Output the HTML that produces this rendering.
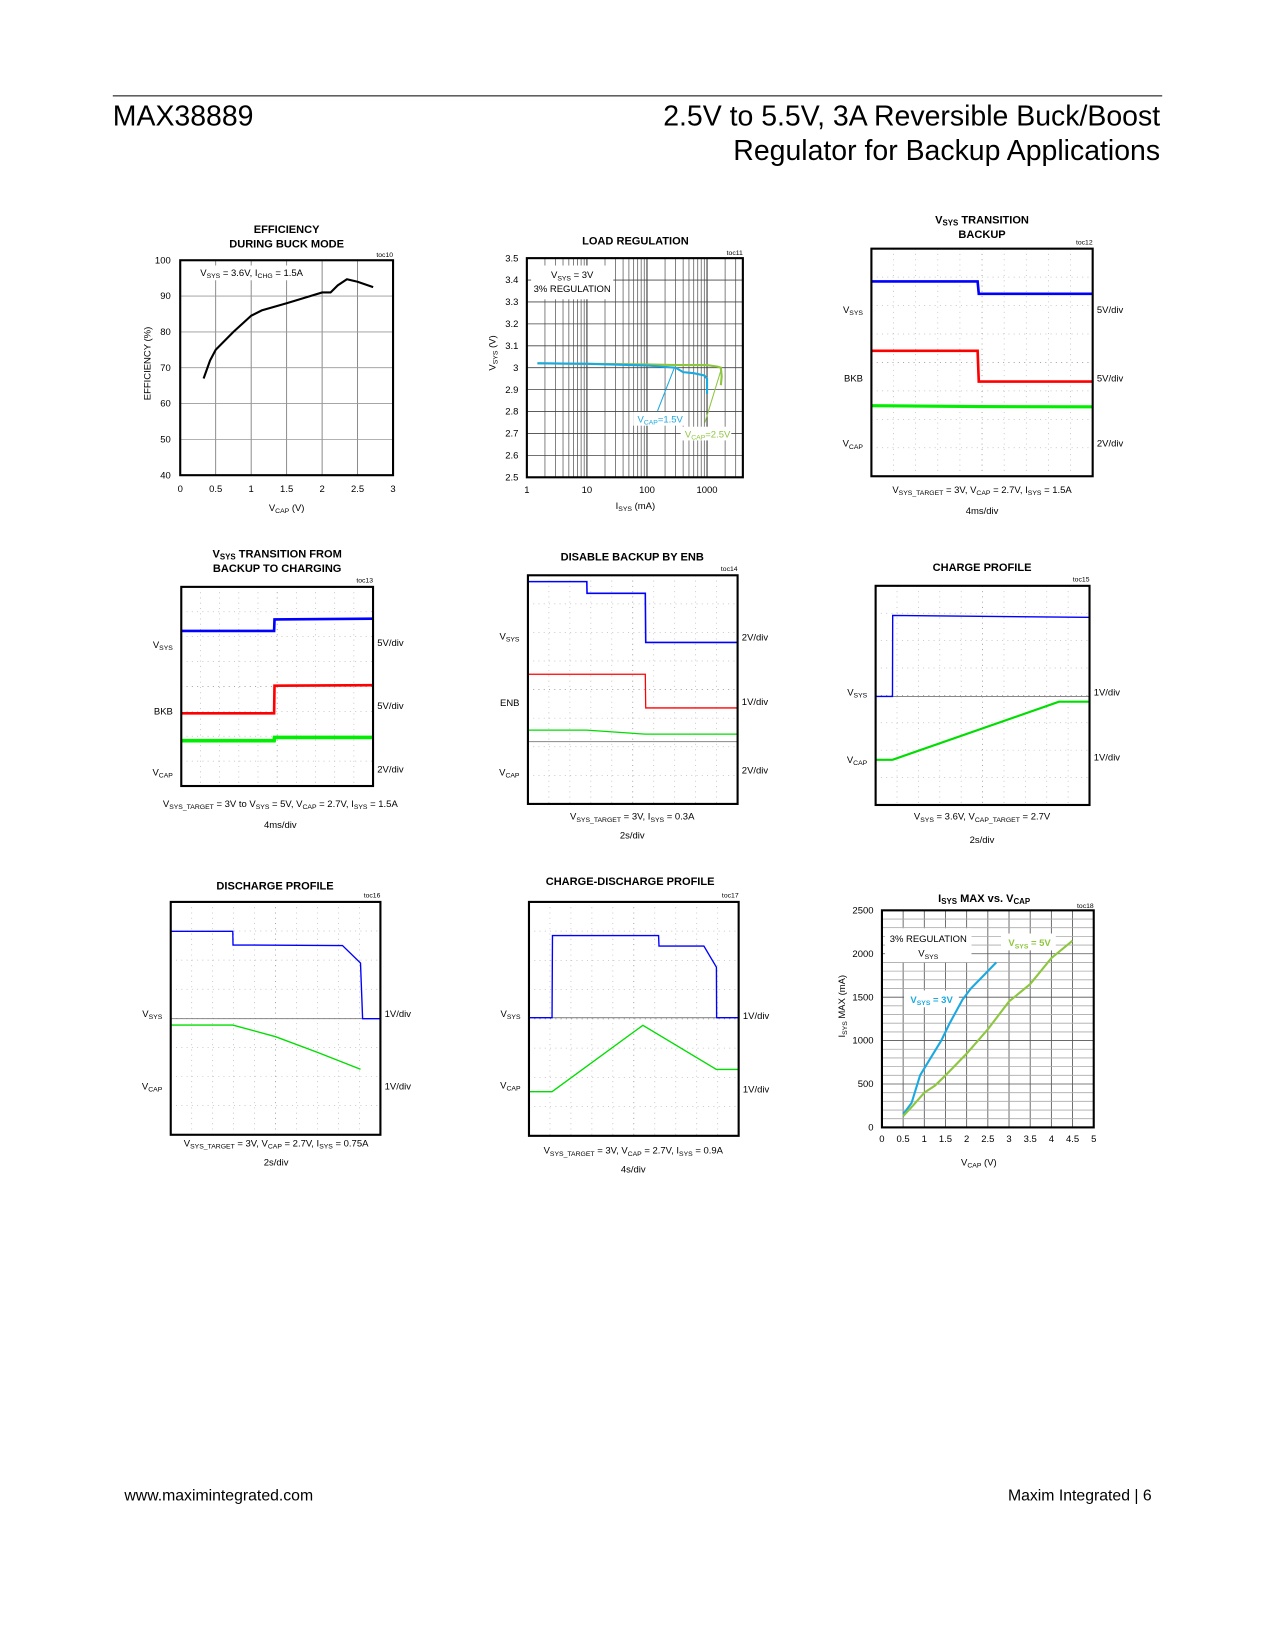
<!DOCTYPE html>
<html><head><meta charset="utf-8"><style>
html,body{margin:0;padding:0;background:#fff}
svg{display:block;font-family:"Liberation Sans",Arial,sans-serif}
</style></head><body>
<svg id="pg" width="1275" height="1650" viewBox="0 0 1210 1566" xmlns="http://www.w3.org/2000/svg">
<line x1="107" y1="91" x2="1103" y2="91" stroke="#000" stroke-width="1"/>
<text x="107" y="119" font-size="27">MAX38889</text>
<text x="1101" y="119" font-size="27" text-anchor="end">2.5V to 5.5V, 3A Reversible Buck/Boost</text>
<text x="1101" y="152" font-size="27" text-anchor="end">Regulator for Backup Applications</text>
<text x="118" y="1424" font-size="15">www.maximintegrated.com</text>
<text x="1093" y="1424" font-size="15" text-anchor="end">Maxim Integrated | 6</text>
<g id="charts"></g>
</svg>
<script>
// ---- Efficiency data (toc10)
const effX=[0.33,0.42,0.5,0.75,1,1.15,1.5,1.75,2,2.12,2.22,2.35,2.5,2.72];
const effY=[67,72,75,80,84.5,86,88,89.5,91,91,93,94.7,94,92.5];
const effXTicks=[0,0.5,1,1.5,2,2.5,3];
const effYTicks=[40,50,60,70,80,90,100];
// ---- Load regulation (toc11)
const lrBlueX=[1.5,10,100,300,400,600,900,1000,1000];
const lrBlueY=[3.02,3.018,3.01,3.0,2.98,2.975,2.965,2.95,2.88];
const lrGreenX=[1.5,10,100,300,1000,1500,1700,1750,1700];
const lrGreenY=[3.02,3.018,3.015,3.012,3.012,3.005,3.0,2.96,2.92];
const lrXTicks=[1,10,100,1000];
const lrYTicks=[2.5,2.6,2.7,2.8,2.9,3,3.1,3.2,3.3,3.4,3.5];
// ---- ISYS max vs VCAP (toc18)
const isX3=[0.5,0.7,0.9,1.1,1.4,1.6,1.9,2.1,2.4,2.7];
const isY3=[150,280,600,760,1000,1200,1470,1600,1750,1900];
const isX5=[0.5,0.75,1,1.25,1.5,2,2.5,3,3.5,4,4.5];
const isY5=[130,260,400,480,600,850,1130,1450,1650,1950,2150];
const isXTicks=[0,0.5,1,1.5,2,2.5,3,3.5,4,4.5,5];
const isYTicks=[0,500,1000,1500,2000,2500];
// ---- Scope traces (time div 0-10, level div 0-8)
const s12BlueT=[0,4.8,4.85,10];const s12BlueV=[6.85,6.85,6.41,6.41];
const s12RedT=[0,4.8,4.85,10];const s12RedV=[4.41,4.41,3.33,3.33];
const s12GrnT=[0,4.8,10];const s12GrnV=[2.48,2.45,2.44];
const s13BlueT=[0,4.84,4.86,10];const s13BlueV=[6.23,6.23,6.69,6.72];
const s13RedT=[0,4.84,4.86,10];const s13RedV=[2.92,2.92,4.03,4.05];
const s13GrnT=[0,4.84,4.86,10];const s13GrnV=[1.82,1.82,1.95,1.95];
const s14BlueT=[0,2.81,2.82,5.6,5.62,10];const s14BlueV=[7.78,7.78,7.37,7.37,5.65,5.65];
const s14RedT=[0,5.6,5.62,10];const s14RedV=[4.54,4.54,3.36,3.36];
const s14GrnT=[0,2.8,5.6,10];const s14GrnV=[2.58,2.58,2.44,2.44];
const s15BlueT=[0,0.79,0.8,9.8,10];const s15BlueV=[3.96,3.96,6.92,6.85,6.85];
const s15GrnT=[0,0.79,8.57,10];const s15GrnV=[1.65,1.65,3.77,3.77];
const s16BlueT=[0,2.96,2.97,8.19,9.05,9.15,10];const s16BlueV=[6.99,6.99,6.52,6.5,5.9,3.99,3.99];
const s16GrnT=[0,2.96,5,7,9.05];const s16GrnV=[3.77,3.77,3.37,2.83,2.25];
const s17BlueT=[0,1.1,1.12,6.18,6.2,8.34,8.94,8.95,10];const s17BlueV=[4.04,4.04,6.85,6.85,6.49,6.49,5.77,4.04,4.04];
const s17GrnT=[0,1.1,5.43,8.94,10];const s17GrnV=[1.51,1.51,3.78,2.27,2.27];

const NS="http://www.w3.org/2000/svg";
const root=document.getElementById('charts');
function mk(tag,attrs,parent,txt){const e=document.createElementNS(NS,tag);for(const k in attrs)e.setAttribute(k,attrs[k]);if(txt!==undefined)e.innerHTML=txt;(parent||root).appendChild(e);return e;}
function pathD(xs,ys,fx,fy){return xs.map((v,i)=>(i?'L':'M')+fx(v).toFixed(1)+' '+fy(ys[i]).toFixed(1)).join(' ');}
function txt(x,y,s,size,anchor,weight,fill){return mk('text',{x:x,y:y,'font-size':size,'text-anchor':anchor||'start','font-weight':weight||'normal',fill:fill||'#000'},root,s);}

// ---------- Efficiency chart
(function(){
 const L=171,R=373,T=247,B=451;
 const fx=v=>L+(v/3)*(R-L), fy=v=>B-(v-40)/60*(B-T);
 const t1=txt(272,221,'EFFICIENCY',10.5,'middle','bold');
 const t2=txt(272,235,'DURING BUCK MODE',10.5,'middle','bold');
 txt(373,244,'toc10',6.5,'end');
 effXTicks.forEach(v=>{mk('line',{x1:fx(v),y1:T,x2:fx(v),y2:B,stroke:'#777','stroke-width':0.8});const t=txt(fx(v),467,String(v),9,'middle');});
 effYTicks.forEach(v=>{mk('line',{x1:L,y1:fy(v),x2:R,y2:fy(v),stroke:'#999','stroke-width':0.8});const t=txt(162,fy(v)+3,String(v),9,'end');});
 mk('rect',{x:183,y:252,width:120,height:14,fill:'#fff'});
 mk('text',{x:190,y:262,'font-size':9},root,'V<tspan font-size="6.5" dy="2">SYS</tspan><tspan dy="-2"> = 3.6V, I</tspan><tspan font-size="6.5" dy="2">CHG</tspan><tspan dy="-2"> = 1.5A</tspan>');
 const p=mk('path',{d:pathD(effX,effY,fx,fy),fill:'none',stroke:'#000','stroke-width':2});
 
 mk('rect',{x:L,y:T,width:R-L,height:B-T,fill:'none',stroke:'#000','stroke-width':2});
 mk('text',{x:272,y:485,'font-size':9,'text-anchor':'middle'},root,'V<tspan font-size="6.5" dy="2">CAP</tspan><tspan dy="-2"> (V)</tspan>');
 mk('text',{x:0,y:0,'font-size':9,'text-anchor':'middle',transform:'translate(143,345) rotate(-90)'},root,'EFFICIENCY (%)');
})();

// ---------- Load regulation
(function(){
 const L=500,R=705,T=245,B=453;
 const fx=v=>L+Math.log10(v)*57, fy=v=>B-(v-2.5)/1*(B-T);
 txt(603,232,'LOAD REGULATION',10.5,'middle','bold');
 txt(705,242,'toc11',6.5,'end');
 for(let d=0;d<4;d++)for(let m=1;m<10;m++){const v=Math.pow(10,d)*m;const x=fx(v);if(x>R)continue;mk('line',{x1:x,y1:T,x2:x,y2:B,stroke:m===1?'#333':'#555','stroke-width':m===1?1:0.7});}
 lrYTicks.forEach(v=>{mk('line',{x1:L,y1:fy(v),x2:R,y2:fy(v),stroke:'#444','stroke-width':0.8});const t=txt(492,fy(v)+3,String(v),9,'end');});
 lrXTicks.forEach(v=>{const t=txt(fx(v),468,String(v),9,'middle');});
 mk('rect',{x:504,y:252,width:78,height:32,fill:'#fff'});
 mk('text',{x:543,y:264,'font-size':9,'text-anchor':'middle'},root,'V<tspan font-size="6.5" dy="2">SYS</tspan><tspan dy="-2"> = 3V</tspan>');
 txt(543,277,'3% REGULATION',9,'middle');
 const g=mk('path',{d:pathD(lrGreenX,lrGreenY,fx,fy),fill:'none',stroke:'#8dc63f','stroke-width':2});
 
 const b=mk('path',{d:pathD(lrBlueX,lrBlueY,fx,fy),fill:'none',stroke:'#1ba9e1','stroke-width':2});
 
 mk('line',{x1:640,y1:349,x2:624,y2:390,stroke:'#1ba9e1','stroke-width':1});
 mk('line',{x1:684,y1:352,x2:669,y2:401,stroke:'#8dc63f','stroke-width':1});
 mk('rect',{x:601,y:391,width:48,height:13,fill:'#fff'});
 mk('text',{x:605,y:401,'font-size':9,fill:'#1ba9e1'},root,'V<tspan font-size="6.5" dy="2">CAP</tspan><tspan dy="-2">=1.5V</tspan>');
 mk('rect',{x:646,y:405,width:48,height:13,fill:'#fff'});
 mk('text',{x:650,y:415,'font-size':9,fill:'#8dc63f'},root,'V<tspan font-size="6.5" dy="2">CAP</tspan><tspan dy="-2">=2.5V</tspan>');
 mk('rect',{x:L,y:T,width:R-L,height:B-T,fill:'none',stroke:'#000','stroke-width':2});
 mk('text',{x:603,y:483,'font-size':9,'text-anchor':'middle'},root,'I<tspan font-size="6.5" dy="2">SYS</tspan><tspan dy="-2"> (mA)</tspan>');
 mk('text',{x:0,y:0,'font-size':9,'text-anchor':'middle',transform:'translate(470,335) rotate(-90)'},root,'V<tspan font-size="6.5" dy="2">SYS</tspan><tspan dy="-2"> (V)</tspan>');
})();

// ---------- ISYS max
(function(){
 const L=837,R=1038,T=864,B=1070;
 const fx=v=>L+v/5*(R-L), fy=v=>B-v/2500*(B-T);
 mk('text',{x:934,y:856,'font-size':10.5,'text-anchor':'middle','font-weight':'bold'},root,'I<tspan font-size="7.5" dy="2">SYS</tspan><tspan dy="-2"> MAX vs. V</tspan><tspan font-size="7.5" dy="2">CAP</tspan>');
 txt(1038,862,'toc18',6.5,'end');
 for(let v=0;v<=5;v+=0.5)mk('line',{x1:fx(v),y1:T,x2:fx(v),y2:B,stroke:'#555','stroke-width':0.8});
 for(let v=0;v<=2500;v+=100)mk('line',{x1:L,y1:fy(v),x2:R,y2:fy(v),stroke:v%500===0?'#555':'#aaa','stroke-width':0.8});
 isXTicks.forEach(v=>{const t=txt(fx(v),1084,String(v),9,'middle');});
 isYTicks.forEach(v=>{const t=txt(829,fy(v)+3,String(v),9,'end');});
 mk('rect',{x:840,y:881,width:82,height:32,fill:'#fff'});
 txt(881,894,'3% REGULATION',9,'middle');
 mk('text',{x:881,y:908,'font-size':9,'text-anchor':'middle'},root,'V<tspan font-size="6.5" dy="2">SYS</tspan>');
 mk('rect',{x:858,y:940,width:52,height:16,fill:'#fff'});
 mk('text',{x:864,y:952,'font-size':9,fill:'#1ba9e1','font-weight':'bold'},root,'V<tspan font-size="6.5" dy="2">SYS</tspan><tspan dy="-2"> = 3V</tspan>');
 mk('rect',{x:950,y:886,width:52,height:16,fill:'#fff'});
 mk('text',{x:957,y:898,'font-size':9,fill:'#8dc63f','font-weight':'bold'},root,'V<tspan font-size="6.5" dy="2">SYS</tspan><tspan dy="-2"> = 5V</tspan>');
 const b=mk('path',{d:pathD(isX3,isY3,fx,fy),fill:'none',stroke:'#1ba9e1','stroke-width':2});
 
 const g=mk('path',{d:pathD(isX5,isY5,fx,fy),fill:'none',stroke:'#8dc63f','stroke-width':2});
 
 mk('rect',{x:L,y:T,width:R-L,height:B-T,fill:'none',stroke:'#000','stroke-width':2});
 mk('text',{x:929,y:1106,'font-size':9,'text-anchor':'middle'},root,'V<tspan font-size="6.5" dy="2">CAP</tspan><tspan dy="-2"> (V)</tspan>');
 mk('text',{x:0,y:0,'font-size':9,'text-anchor':'middle',transform:'translate(802,955) rotate(-90)'},root,'I<tspan font-size="6.5" dy="2">SYS</tspan><tspan dy="-2"> MAX (mA)</tspan>');
})();

// ---------- Scope charts
function scope(o){
 const {L,R,T,B}=o;
 const fx=t=>L+t/10*(R-L), fy=v=>B-v/8*(B-T);
 o.title.forEach((s,i)=>mk('text',{x:o.tx,y:o.ty+i*14,'font-size':10.5,'text-anchor':'middle','font-weight':'bold'},root,s));
 txt(R,T-4,o.toc,6.5,'end');
 for(let i=1;i<10;i++)mk('line',{x1:fx(i),y1:T,x2:fx(i),y2:B,stroke:i===5?'#888':'#bbb','stroke-width':0.7,'stroke-dasharray':'1,4'});
 for(let i=1;i<8;i++)mk('line',{x1:L,y1:fy(i),x2:R,y2:fy(i),stroke:i===4?'#888':'#bbb','stroke-width':0.7,'stroke-dasharray':'1,4'});
 if(o.gray!==undefined)mk('line',{x1:L,y1:fy(o.gray),x2:R,y2:fy(o.gray),stroke:'#888','stroke-width':1});
 o.traces.forEach(tr=>{const p=mk('path',{d:pathD(tr.t,tr.v,fx,fy),fill:'none',stroke:tr.c,'stroke-width':tr.w||1.5});
  });
 mk('rect',{x:L,y:T,width:R-L,height:B-T,fill:'none',stroke:'#000','stroke-width':2});
 o.left.forEach(l=>mk('text',{x:L-8,y:l[1],'font-size':9,'text-anchor':'end'},root,l[0]));
 o.right.forEach(l=>mk('text',{x:R+4,y:l[1],'font-size':9},root,l[0]));
 o.cap.forEach(c=>mk('text',{x:o.cx,y:c[1],'font-size':9,'text-anchor':'middle'},root,c[0]));
}
const VS='V<tspan font-size="6.5" dy="2">SYS</tspan>', VC='V<tspan font-size="6.5" dy="2">CAP</tspan>';
const VST='V<tspan font-size="6.5" dy="2">SYS_TARGET</tspan><tspan dy="-2">';
scope({L:827,R:1037,T:236,B:452,tx:932,ty:212,toc:'toc12',
 title:['V<tspan font-size="7.5" dy="2">SYS</tspan><tspan dy="-2"> TRANSITION</tspan>','BACKUP'],
 traces:[{t:s12BlueT,v:s12BlueV,c:'#0000ff',w:2.5,n:'vsys-trace'},{t:s12RedT,v:s12RedV,c:'#ff0000',w:2.5,n:'bkb-trace'},{t:s12GrnT,v:s12GrnV,c:'#00ee00',w:3,n:'vcap-trace'}],
 left:[[VS,297],['BKB',362],[VC,424]],right:[['5V/div',297],['5V/div',362],['2V/div',424]],cx:932,
 cap:[[VST+' = 3V, V</tspan><tspan font-size="6.5" dy="2">CAP</tspan><tspan dy="-2"> = 2.7V, I</tspan><tspan font-size="6.5" dy="2">SYS</tspan><tspan dy="-2"> = 1.5A</tspan>',468],['4ms/div',488]]});
scope({L:172,R:354,T:557,B:746,tx:263,ty:529,toc:'toc13',
 title:['V<tspan font-size="7.5" dy="2">SYS</tspan><tspan dy="-2"> TRANSITION FROM</tspan>','BACKUP TO CHARGING'],
 traces:[{t:s13BlueT,v:s13BlueV,c:'#0000ff',w:2.5,n:'vsys-trace'},{t:s13RedT,v:s13RedV,c:'#ff0000',w:2.5,n:'bkb-trace'},{t:s13GrnT,v:s13GrnV,c:'#00ee00',w:3.5,n:'vcap-trace'}],
 left:[[VS,615],['BKB',678],[VC,736]],right:[['5V/div',613],['5V/div',673],['2V/div',733]],cx:266,
 cap:[[VST+' = 3V to V</tspan><tspan font-size="6.5" dy="2">SYS</tspan><tspan dy="-2"> = 5V, V</tspan><tspan font-size="6.5" dy="2">CAP</tspan><tspan dy="-2"> = 2.7V, I</tspan><tspan font-size="6.5" dy="2">SYS</tspan><tspan dy="-2"> = 1.5A</tspan>',766],['4ms/div',786]]});
scope({L:501,R:700,T:546,B:763,tx:600,ty:532,toc:'toc14',title:['DISABLE BACKUP BY ENB'],gray:2.18,
 traces:[{t:s14BlueT,v:s14BlueV,c:'#0000ff',w:1.5,n:'vsys-trace'},{t:s14RedT,v:s14RedV,c:'#ff0000',w:1.2,n:'enb-trace'},{t:s14GrnT,v:s14GrnV,c:'#00dd00',w:1.2,n:'vcap-trace'}],
 left:[[VS,607],['ENB',670],[VC,736]],right:[['2V/div',608],['1V/div',669],['2V/div',734]],cx:600,
 cap:[[VST+' = 3V, I</tspan><tspan font-size="6.5" dy="2">SYS</tspan><tspan dy="-2"> = 0.3A</tspan>',778],['2s/div',796]]});
scope({L:831,R:1034,T:556,B:764,tx:932,ty:542,toc:'toc15',title:['CHARGE PROFILE'],gray:3.96,
 traces:[{t:s15BlueT,v:s15BlueV,c:'#0000ff',w:1.3,n:'vsys-trace'},{t:s15GrnT,v:s15GrnV,c:'#00dd00',w:2,n:'vcap-trace'}],
 left:[[VS,660],[VC,724]],right:[['1V/div',660],['1V/div',722]],cx:932,
 cap:[['V<tspan font-size="6.5" dy="2">SYS</tspan><tspan dy="-2"> = 3.6V, V</tspan><tspan font-size="6.5" dy="2">CAP_TARGET</tspan><tspan dy="-2"> = 2.7V</tspan>',778],['2s/div',800]]});
scope({L:162,R:361,T:856,B:1077,tx:261,ty:844,toc:'toc16',title:['DISCHARGE PROFILE'],gray:3.99,
 traces:[{t:s16BlueT,v:s16BlueV,c:'#0000ff',w:1.3,n:'vsys-trace'},{t:s16GrnT,v:s16GrnV,c:'#00dd00',w:1.3,n:'vcap-trace'}],
 left:[[VS,965],[VC,1034]],right:[['1V/div',965],['1V/div',1034]],cx:262,
 cap:[[VST+' = 3V, V</tspan><tspan font-size="6.5" dy="2">CAP</tspan><tspan dy="-2"> = 2.7V, I</tspan><tspan font-size="6.5" dy="2">SYS</tspan><tspan dy="-2"> = 0.75A</tspan>',1088],['2s/div',1106]]});
scope({L:502,R:701,T:856,B:1078,tx:598,ty:840,toc:'toc17',title:['CHARGE-DISCHARGE PROFILE'],gray:4.04,
 traces:[{t:s17BlueT,v:s17BlueV,c:'#0000ff',w:1.3,n:'vsys-trace'},{t:s17GrnT,v:s17GrnV,c:'#00dd00',w:1.3,n:'vcap-trace'}],
 left:[[VS,965],[VC,1033]],right:[['1V/div',967],['1V/div',1037]],cx:601,
 cap:[[VST+' = 3V, V</tspan><tspan font-size="6.5" dy="2">CAP</tspan><tspan dy="-2"> = 2.7V, I</tspan><tspan font-size="6.5" dy="2">SYS</tspan><tspan dy="-2"> = 0.9A</tspan>',1095],['4s/div',1113]]});
</script>
</body></html>
